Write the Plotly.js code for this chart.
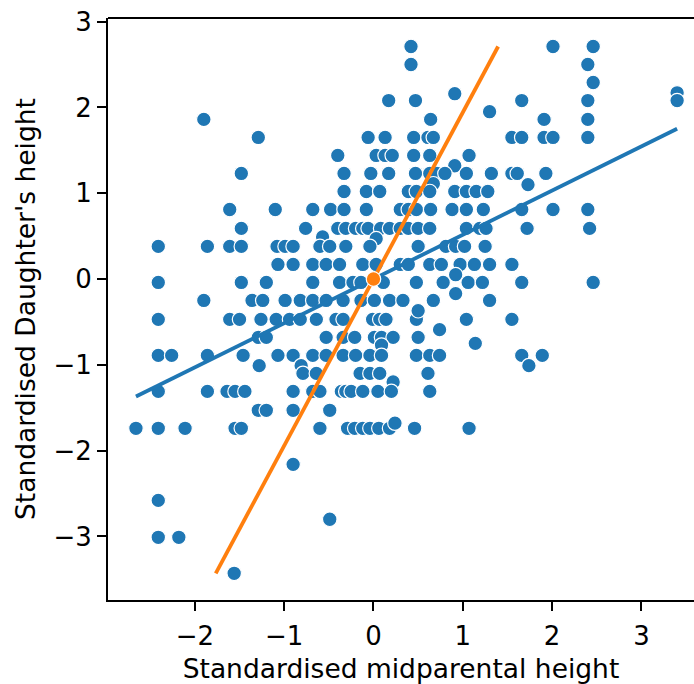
<!DOCTYPE html>
<html>
<head>
<meta charset="utf-8">
<script src="https://cdn.plot.ly/plotly-3.0.1.min.js"></script>
<style>html,body{margin:0;padding:0;background:#fff;}#chart{width:694px;height:684px;}</style>
</head>
<body>
<div id="chart"></div>
<script>
// Standardised midparental height (x) and standardised daughter's height (y)
const midparental = [
  0.42, 2.01, 2.46,
  0.42, 2.40,
  2.46,
  0.91, 3.40,
  0.17, 0.47, 1.66, 2.40, 3.40,
  1.30,
  -1.90, 0.64, 1.91, 2.40,
  -1.29, -0.06, 0.13, 0.45, 0.61, 0.67, 1.55, 1.66, 1.91, 2.01, 2.40,
  -0.40, 0.03, 0.13, 0.21, 0.45, 0.63, 1.07,
  0.91,
  -1.48, -0.33, -0.03, 0.17, 0.47, 0.63, 0.71, 0.80, 1.04, 1.32, 1.55, 1.61, 1.93,
  0.67, 1.73,
  -0.33, -0.08, 0.07, 0.39, 0.48, 0.63, 0.91, 1.04, 1.15, 1.28,
  -1.61, -1.10, -0.68, -0.48, -0.33, -0.08, 0.30, 0.39, 0.48, 0.64, 0.88, 1.04, 1.23, 1.66, 2.01, 2.40,
  -1.48, -0.76, -0.40, -0.31, -0.20, -0.12, -0.06, 0.08, 0.18, 0.30, 0.39, 0.50, 0.63, 1.04, 1.19, 1.26, 1.72, 2.42,
  -0.57, 0.03,
  -2.41, -1.86, -1.61, -1.48, -1.08, -0.99, -0.90, -0.60, -0.49, -0.31, -0.04, 0.50, 0.81, 0.92, 1.02, 1.25,
  -1.07, -0.90, -0.68, -0.53, -0.38, -0.12, 0.03, 0.30, 0.39, 0.63, 0.76, 0.97, 1.13, 1.30, 1.55,
  0.92,
  -2.41, -1.48, -1.20, -0.68, -0.38, -0.23, -0.14, 0.11, 0.48, 0.78, 1.06, 1.22, 1.66, 2.46,
  0.92,
  -1.90, -1.36, -1.24, -0.99, -0.82, -0.68, -0.53, -0.34, -0.14, 0.01, 0.18, 0.33, 0.67, 1.30,
  -2.41, -1.61, -1.50, -1.26, -1.09, -0.94, -0.82, -0.64, -0.42, -0.34, -0.01, 0.07, 0.14, 0.48, 1.04, 1.55,
  0.50, 0.74,
  -1.29, -1.20, -0.53, -0.34, -0.21, 0.01, 0.09, 0.22, 0.50,
  0.09, 1.14,
  -2.41, -2.26, -1.86, -1.46, -1.07, -0.90, -0.68, -0.53, -0.34, -0.20, -0.04, 0.09, 0.48, 0.63, 0.74, 1.66, 1.89,
  -1.28, 1.74, -0.81,
  -0.79, -0.64, -0.15, -0.04, 0.07, 0.61,
  0.22,
  -2.41, -1.86, -1.64, -1.55, -1.44, -0.90, -0.68, -0.60, -0.36, -0.31, -0.25, -0.12, 0.05, 0.20, 0.63,
  -1.29, -1.20, -0.90, -0.49,
  -2.66, -2.41, -2.11, -1.55, -1.48, -0.60, -0.29, -0.21, -0.12, -0.04, 0.06, 0.18, 0.46, 1.07,
  0.24,
  -0.90,
  -2.41,
  -0.49,
  -2.41, -2.18,
  -1.56
];
const daughter = [
  2.71, 2.71, 2.71,
  2.50, 2.50,
  2.29,
  2.16, 2.17,
  2.08, 2.08, 2.08, 2.08, 2.08,
  1.95,
  1.86, 1.86, 1.86, 1.86,
  1.65, 1.65, 1.65, 1.65, 1.65, 1.65, 1.65, 1.65, 1.65, 1.65, 1.65,
  1.44, 1.44, 1.44, 1.44, 1.44, 1.44, 1.44,
  1.32,
  1.23, 1.23, 1.23, 1.23, 1.23, 1.23, 1.23, 1.23, 1.23, 1.23, 1.23, 1.23, 1.23,
  1.11, 1.10,
  1.02, 1.02, 1.02, 1.02, 1.02, 1.02, 1.02, 1.02, 1.02, 1.02,
  0.81, 0.81, 0.81, 0.81, 0.81, 0.81, 0.81, 0.81, 0.81, 0.81, 0.81, 0.81, 0.81, 0.81, 0.81, 0.81,
  0.59, 0.59, 0.59, 0.59, 0.59, 0.59, 0.59, 0.59, 0.59, 0.59, 0.59, 0.59, 0.59, 0.59, 0.59, 0.59, 0.59, 0.59,
  0.49, 0.47,
  0.38, 0.38, 0.38, 0.38, 0.38, 0.38, 0.38, 0.38, 0.38, 0.38, 0.38, 0.38, 0.38, 0.38, 0.38, 0.38,
  0.17, 0.17, 0.17, 0.17, 0.17, 0.17, 0.17, 0.17, 0.17, 0.17, 0.17, 0.17, 0.17, 0.17, 0.17,
  0.05,
  -0.04, -0.04, -0.04, -0.04, -0.04, -0.04, -0.04, -0.04, -0.04, -0.04, -0.04, -0.04, -0.04, -0.04,
  -0.17,
  -0.25, -0.25, -0.25, -0.25, -0.25, -0.25, -0.25, -0.25, -0.25, -0.25, -0.25, -0.25, -0.25, -0.25,
  -0.47, -0.47, -0.47, -0.47, -0.47, -0.47, -0.47, -0.47, -0.47, -0.47, -0.47, -0.47, -0.47, -0.47, -0.47, -0.47,
  -0.37, -0.59,
  -0.68, -0.68, -0.68, -0.68, -0.68, -0.68, -0.68, -0.68, -0.68,
  -0.77, -0.75,
  -0.89, -0.89, -0.89, -0.89, -0.89, -0.89, -0.89, -0.89, -0.89, -0.89, -0.89, -0.89, -0.89, -0.89, -0.89, -0.89, -0.89,
  -1.01, -1.01, -1.01,
  -1.10, -1.10, -1.10, -1.10, -1.10, -1.10,
  -1.20,
  -1.31, -1.31, -1.31, -1.31, -1.31, -1.31, -1.31, -1.31, -1.31, -1.31, -1.31, -1.31, -1.31, -1.31, -1.31,
  -1.53, -1.53, -1.53, -1.53,
  -1.74, -1.74, -1.74, -1.74, -1.74, -1.74, -1.74, -1.74, -1.74, -1.74, -1.74, -1.74, -1.74, -1.74,
  -1.68,
  -2.16,
  -2.58,
  -2.80,
  -3.01, -3.01,
  -3.43
];
// correlation coefficient (slope of both standardised regressions)
const r = 0.515;
const xTicks = [-2, -1, 0, 1, 2, 3];
const yTicks = [-3, -2, -1, 0, 1, 2, 3];

const xMin = Math.min(...midparental), xMax = Math.max(...midparental);
const yMin = Math.min(...daughter), yMax = Math.max(...daughter);

const blue = '#1f77b4', orange = '#ff7f0e';
const font = 'DejaVu Sans, Liberation Sans, sans-serif';

const traces = [
  {x: midparental, y: daughter, type: 'scatter', mode: 'markers',
   marker: {color: blue, size: 14.5, line: {color: '#ffffff', width: 1.2}}, hoverinfo: 'x+y'},
  {x: [xMin, xMax], y: [r * xMin, r * xMax], type: 'scatter', mode: 'lines',
   line: {color: blue, width: 3.8}},
  {x: [r * yMin, r * yMax], y: [yMin, yMax], type: 'scatter', mode: 'lines',
   line: {color: orange, width: 3.8}},
  {x: [0], y: [0], type: 'scatter', mode: 'markers',
   marker: {color: orange, size: 14.5, line: {color: '#ffffff', width: 1.2}}}
];

const axisCommon = {
  ticks: 'outside', ticklen: 9, tickwidth: 2, tickcolor: '#000',
  showline: true, linewidth: 2, linecolor: '#000',
  showgrid: false, zeroline: false,
  tickfont: {family: font, size: 26, color: '#000'},
  tickmode: 'array'
};

const layout = {
  width: 694, height: 684,
  margin: {l: 108, r: 0, t: 18, b: 84},
  paper_bgcolor: '#fff', plot_bgcolor: '#fff',
  showlegend: false,
  font: {family: font, color: '#000'},
  xaxis: Object.assign({}, axisCommon, {
    range: [-2.973, 3.589], tickvals: xTicks,
    ticktext: xTicks.map(v => v < 0 ? '\u2212' + Math.abs(v) : String(v)),
    ticklabelstandoff: 3,
    title: {text: 'Standardised midparental height', font: {family: font, size: 26.5, color: '#000'}, standoff: 9}
  }),
  yaxis: Object.assign({}, axisCommon, {
    range: [-3.741, 3.042], tickvals: yTicks,
    ticktext: yTicks.map(v => v < 0 ? '\u2212' + Math.abs(v) : String(v)),
    title: {text: "Standardised Daughter's height", font: {family: font, size: 26.5, color: '#000'}, standoff: 10}
  }),
  shapes: [{type: 'line', xref: 'paper', yref: 'paper', x0: 0, x1: 1, y0: 1, y1: 1,
            line: {color: '#000', width: 2}}]
};

Plotly.newPlot('chart', traces, layout, {displayModeBar: false, staticPlot: true});
</script>
</body>
</html>
